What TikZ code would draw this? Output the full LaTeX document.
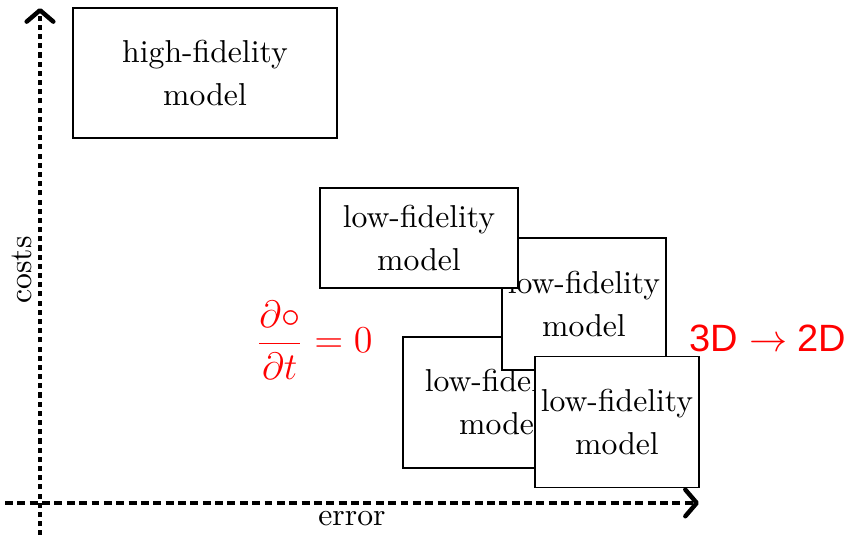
\documentclass[tikz,border=0pt]{standalone}
\usepackage{amsmath,amssymb}
\usepackage{fontspec}
\setsansfont{Liberation Sans}
\usepackage{tikz}
\usetikzlibrary{positioning,arrows.meta}

\begin{document}
\begin{tikzpicture}[
        box/.style={rectangle, draw=black, fill=white, semithick, align=center,
                     inner sep=0pt, font=\linespread{1.13}\selectfont},
        axis/.style={very thick, line width=1.3pt,
                     -{Straight Barb[length=3.6pt, width=8.4pt, line width=1.4pt, round]}},
        note/.style={text=red, inner sep=0pt, font=\large}
    ]
        \useasboundingbox (-0.4436,-0.355) rectangle (8.939,5.578);

        % axes
        \coordinate (xfrom) at (-0.388,0);
        \coordinate (xto) at (7.308,0);
        \coordinate (yfrom) at (0,-0.36);
        \coordinate (yto) at (0,5.489);
        \draw[axis, dash pattern=on 2.5pt off 1.4pt] (xfrom) -- (xto);
        \draw[axis, dash pattern=on 1.6pt off 1.3pt] (yfrom) -- (yto);
        \node[rotate=90, inner sep=0pt] (costs) at (-0.2,2.584) {costs};
        \node[inner sep=0pt] (error) at (3.46,-0.17) {error};

        % models
        \node[box, minimum width=2.928cm, minimum height=1.442cm] (hifi) at (1.830,4.769) {high-fidelity\\model};
        \node[box, minimum width=2.174cm, minimum height=1.453cm] (lofic) at (5.112,1.115) {low-fidelity\\model};
        \node[box, minimum width=1.819cm, minimum height=1.464cm] (lofib) at (6.033,2.207) {low-fidelity\\model};
        \node[box, minimum width=2.196cm, minimum height=1.109cm] (lofia) at (4.203,2.939) {low-fidelity\\model};
        \node[box, minimum width=1.819cm, minimum height=1.453cm] (lofid) at (6.399,0.898) {low-fidelity\\model};

        % simplifications
        \node[note] (steady) at (3.039,1.808) {$\displaystyle\frac{\partial\circ}{\partial t} = 0$};
        \node[note, font=\large\sffamily] (dimred) at (8.074,1.830) {3D $\rightarrow$ 2D};
    \end{tikzpicture}
\end{document}
